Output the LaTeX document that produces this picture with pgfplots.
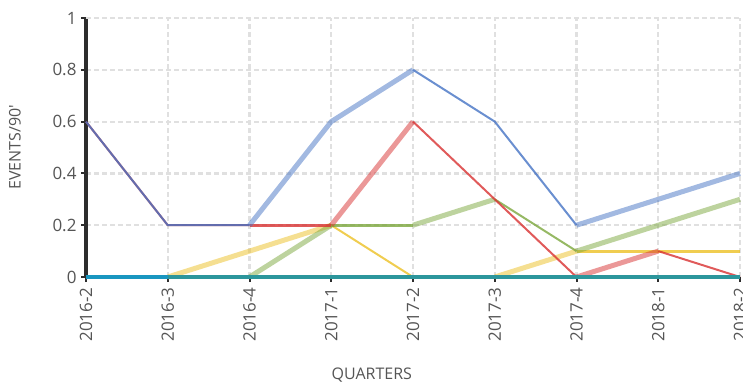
\documentclass[border=0pt]{standalone}
\usepackage{fontspec}
\setmainfont{Open Sans}
\usepackage{pgfplots}
\pgfplotsset{compat=1.18}

\definecolor{cblue}{RGB}{69,115,196}
\definecolor{cred}{RGB}{216,49,49}
\definecolor{cgreen}{RGB}{124,167,61}
\definecolor{cyellow}{RGB}{236,192,36}
\definecolor{ccyan}{RGB}{25,150,192}
\definecolor{cteal}{RGB}{44,150,156}
\definecolor{gridgray}{RGB}{224,224,224}
\definecolor{txtgray}{RGB}{85,85,85}
\definecolor{axdark}{RGB}{45,45,45}

\pgfplotsset{
  rise/.style={line width=5bp, opacity=0.5, line join=round, line cap=butt},
  fall/.style={line width=2bp, opacity=0.8, line join=round},
  flat/.style={line width=3bp, opacity=0.8, line join=round},
}

\begin{document}
\begin{tikzpicture}
\begin{axis}[
    width=654bp, height=259bp, scale only axis,
    xmin=0, xmax=8, ymin=0, ymax=1,
    axis lines*=left,
    y axis line style={axdark, line width=3.5bp},
    x axis line style={draw=none},
    xtick={0,...,7},
    xticklabels={2016-2,2016-3,2016-4,2017-1,2017-2,2017-3,2017-4,2018-1},
    extra x ticks={8},
    extra x tick labels={2018-2},
    extra x tick style={grid style={solid, gridgray, line width=3bp, dash pattern=}},
    ytick={0,0.2,0.4,0.6,0.8},
    extra y ticks={1},
    extra y tick style={grid style={solid, gridgray, line width=3bp, dash pattern=}},
    x tick label style={rotate=90, anchor=east, font=\fontsize{17bp}{20bp}\selectfont, text=txtgray},
    y tick label style={font=\fontsize{17bp}{20bp}\selectfont, text=txtgray},
    /pgf/number format/assume math mode=true,
    tick align=outside,
    major tick length=5bp,
    tick style={axdark, line width=2bp},
    xticklabel shift=2bp,
    yticklabel shift=1bp,
    grid=major,
    major grid style={gridgray, line width=2.2bp, dash pattern=on 5bp off 3bp},
    unbounded coords=jump,
    every axis y label/.style={at={(axis description cs:0,0.5)}, xshift=-71bp, rotate=90, anchor=center},
    every axis x label/.style={at={(axis description cs:0.437,0)}, yshift=-98bp, anchor=center},
    ylabel={EVENTS/90\textquotesingle},
    xlabel={QUARTERS},
    label style={font=\fontsize{16bp}{18bp}\selectfont, text=txtgray},
    clip=false,
]
% yellow
\addplot[cyellow, rise] coordinates {(1,0) (2,0.1) (3,0.2) (4,nan) (5,0) (6,0.1)};
\addplot[cyellow, fall] coordinates {(3,0.2) (4,0)};
\addplot[cyellow, flat] coordinates {(4,0) (5,0) (5.5,nan) (6,0.1) (7,0.1) (8,0.1)};
% green
\addplot[cgreen, rise] coordinates {(2,0) (3,0.2) (3.5,nan) (4,0.2) (5,0.3) (5.5,nan) (6,0.1) (7,0.2) (8,0.3)};
\addplot[cgreen, flat] coordinates {(3,0.2) (4,0.2)};
\addplot[cgreen, fall] coordinates {(5,0.3) (6,0.1)};
% red
\addplot[cred, fall] coordinates {(0,0.6) (1,0.2) (2,0.2) (3,nan) (4,0.6) (5,0.3) (6,0) (6.5,nan) (7,0.1) (8,0)};
\addplot[cred, flat] coordinates {(2,0.2) (3,0.2)};
\addplot[cred, rise] coordinates {(3,0.2) (4,0.6) (5,nan) (6,0) (7,0.1)};
% blue
\addplot[cblue, fall] coordinates {(0,0.6) (1,0.2) (2,0.2) (3,nan) (4,0.8) (5,0.6) (6,0.2)};
\addplot[cblue, rise] coordinates {(2,0.2) (3,0.6) (4,0.8) (5,nan) (6,0.2) (7,0.3) (8,0.4)};
% cyan baseline
\addplot[ccyan, line width=3.5bp] coordinates {(0,0) (1,0)};
\addplot[cteal, line width=3.5bp] coordinates {(1,0) (2,0) (3,0) (4,0) (5,0) (6,0) (7,0) (8,0)};
\end{axis}
\pgfresetboundingbox
\path[use as bounding box] ([shift={(-86bp,-108bp)}]current axis.south west) rectangle ([shift={(3bp,18bp)}]current axis.north east);
\end{tikzpicture}
\end{document}
